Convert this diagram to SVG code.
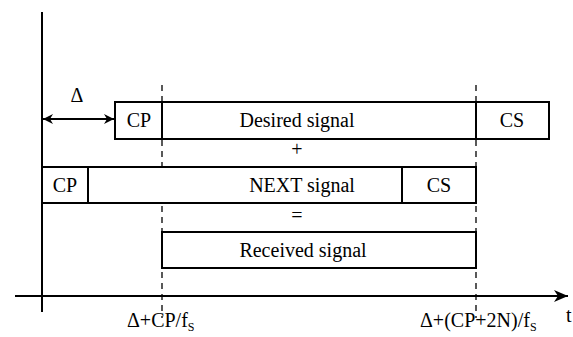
<svg xmlns="http://www.w3.org/2000/svg" width="573" height="337" viewBox="0 0 573 337">
<defs>
<style>
.box{fill:#fff;stroke:#000;stroke-width:2}
.ln{stroke:#000;stroke-width:2;fill:none}
.dash{stroke:#000;stroke-width:1.3;stroke-dasharray:6,5;fill:none}
.t{font-family:'Liberation Serif','DejaVu Serif','Times New Roman',serif;font-size:20px;fill:#000}
.c{text-anchor:middle}
</style>
<marker id="ah" viewBox="0 0 10 10" refX="10" refY="5" markerWidth="10" markerHeight="10" markerUnits="userSpaceOnUse" orient="auto-start-reverse">
<path d="M0,0 L10,5 L0,10 L3,5 z" fill="#000"/>
</marker>
<marker id="ax" viewBox="0 0 14 12" refX="14" refY="6" markerWidth="14" markerHeight="12" markerUnits="userSpaceOnUse" orient="auto">
<path d="M0,0 L14,6 L0,12 L4,6 z" fill="#000"/>
</marker>
</defs>
<g id="connectors">
<line class="ln" x1="42" y1="12" x2="42" y2="312"/>
<line class="ln" x1="15" y1="296" x2="568" y2="296" marker-end="url(#ax)"/>
<line class="ln" x1="43" y1="119" x2="114" y2="119" marker-start="url(#ah)" marker-end="url(#ah)"/>
<line class="dash" x1="162" y1="85" x2="162" y2="318"/>
<line class="dash" x1="476" y1="85" x2="476" y2="318"/>
</g>
<g id="desired" class="t" font-family="Liberation Serif, DejaVu Serif, serif">
<rect class="box" x="115" y="102" width="434" height="37"/>
<line class="ln" x1="162" y1="102" x2="162" y2="139"/>
<line class="ln" x1="476" y1="102" x2="476" y2="139"/>
<text class="c" x="139" y="127">CP</text>
<text class="c" x="297" y="127">Desired signal</text>
<text class="c" x="512" y="127">CS</text>
</g>
<g id="next" class="t" font-family="Liberation Serif, DejaVu Serif, serif">
<rect class="box" x="42" y="167" width="434" height="36"/>
<line class="ln" x1="88" y1="167" x2="88" y2="203"/>
<line class="ln" x1="402" y1="167" x2="402" y2="203"/>
<text class="c" x="65" y="192">CP</text>
<text class="c" x="302" y="192">NEXT signal</text>
<text class="c" x="439" y="192">CS</text>
</g>
<g id="received" class="t" font-family="Liberation Serif, DejaVu Serif, serif">
<rect class="box" x="162" y="232" width="314" height="36"/>
<text class="c" x="303" y="257">Received signal</text>
</g>
<g id="labels" class="t" font-family="Liberation Serif, DejaVu Serif, serif">
<text class="c" x="297" y="156">+</text>
<text class="c" x="297" y="222">=</text>
<text class="c" x="77" y="102">Δ</text>
<text x="127" y="327">Δ+CP/f<tspan font-size="12" dy="4">S</tspan></text>
<text x="420" y="327">Δ+(CP+2N)/f<tspan font-size="12" dy="4">S</tspan></text>
<text x="566" y="322">t</text>
</g>
</svg>
